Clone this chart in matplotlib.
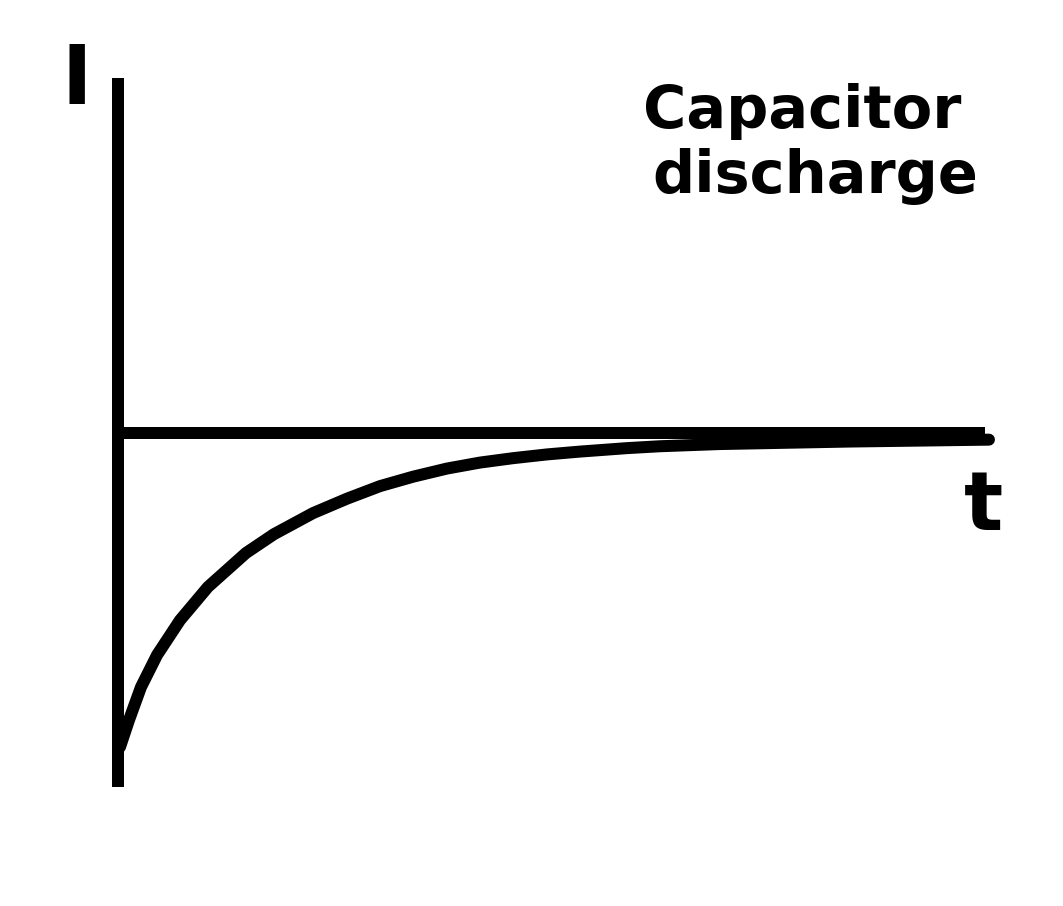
import numpy as np
import matplotlib.pyplot as plt

# discharge current curve (t in arbitrary units, I normalised)
t = np.array([0.023, 0.127, 0.265, 0.450, 0.715, 1.038, 1.476, 1.799, 2.249,
              2.641, 3.022, 3.403, 3.795, 4.175, 4.556, 4.948, 5.329, 5.871,
              6.251, 6.943, 8.443, 10.046])
I = np.array([-1.0, -0.914, -0.809, -0.707, -0.596, -0.490, -0.382, -0.322, -0.255,
              -0.209, -0.169, -0.139, -0.113, -0.094, -0.080, -0.068, -0.059,
              -0.048, -0.042, -0.035, -0.027, -0.021])

# axis extents
t_axis = [0.0, 10.0]
I_axis = [-1.127, 1.13]

title_lines = ['Capacitor', 'discharge']

lw = 8.64  # ~12 px

fig = plt.figure(figsize=(10.63, 9.06), dpi=100)
ax = fig.add_axes([0, 0, 1, 1])
ax.set_xlim(-1.361, 10.9)
ax.set_ylim(-1.506, 1.379)
ax.axis('off')

ax.plot([0, 0], I_axis, color='black', lw=lw, solid_capstyle='butt')
ax.plot(t_axis, [0, 0], color='black', lw=lw, solid_capstyle='butt')
ax.plot(t, I, color='black', lw=lw, solid_capstyle='round', solid_joinstyle='round')

ax.text(-0.48, 1.048, 'I', fontsize=59, fontweight='bold', ha='center', va='baseline')
ax.text(9.98, -0.309, 't', fontsize=59, fontweight='bold', ha='center', va='baseline')

# title, two centred lines
for s, x, y in zip(title_lines, [7.895, 8.04], [0.971, 0.764]):
    ax.text(x, y, s, fontsize=42.5, fontweight='bold', ha='center', va='baseline')

fig.savefig('out.png', dpi=100)
